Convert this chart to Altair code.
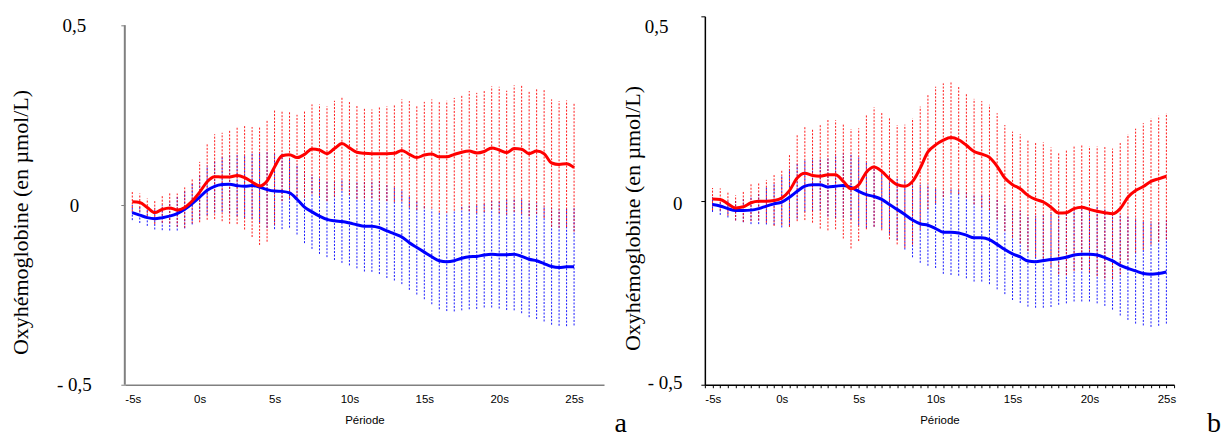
import altair as alt
import pandas as pd

# time stamps (s), one every 0.5 s
T = [-4.5, -4.0, -3.5, -3.0, -2.5, -2.0, -1.5, -1.0, -0.5, 0.0,
     0.5, 1.0, 1.5, 2.0, 2.5, 3.0, 3.5, 4.0, 4.5, 5.0,
     5.5, 6.0, 6.5, 7.0, 7.5, 8.0, 8.5, 9.0, 9.5, 10.0,
     10.5, 11.0, 11.5, 12.0, 12.5, 13.0, 13.5, 14.0, 14.5, 15.0,
     15.5, 16.0, 16.5, 17.0, 17.5, 18.0, 18.5, 19.0, 19.5, 20.0,
     20.5, 21.0, 21.5, 22.0, 22.5, 23.0, 23.5, 24.0, 24.5, 25.0]

# panel a
A_RED_MEAN = [0.009, 0.007, -0.007, -0.021, -0.012, -0.008, -0.014, -0.007, 0.011, 0.036,
              0.065, 0.079, 0.078, 0.078, 0.082, 0.076, 0.064, 0.053, 0.067, 0.106,
              0.137, 0.140, 0.132, 0.141, 0.156, 0.153, 0.143, 0.157, 0.171, 0.159,
              0.147, 0.144, 0.143, 0.143, 0.143, 0.144, 0.152, 0.141, 0.132, 0.139,
              0.142, 0.134, 0.134, 0.141, 0.147, 0.150, 0.145, 0.149, 0.159, 0.153,
              0.146, 0.157, 0.155, 0.143, 0.150, 0.143, 0.117, 0.113, 0.115, 0.104]
A_RED_ERR = [0.027, 0.025, 0.025, 0.032, 0.037, 0.043, 0.046, 0.056, 0.062, 0.084,
             0.106, 0.118, 0.123, 0.130, 0.135, 0.144, 0.153, 0.164, 0.169, 0.160,
             0.126, 0.121, 0.119, 0.120, 0.124, 0.127, 0.132, 0.133, 0.131, 0.131,
             0.130, 0.125, 0.123, 0.130, 0.132, 0.135, 0.142, 0.148, 0.145, 0.148,
             0.152, 0.155, 0.156, 0.157, 0.160, 0.167, 0.167, 0.168, 0.171, 0.176,
             0.172, 0.176, 0.179, 0.174, 0.174, 0.179, 0.177, 0.176, 0.176, 0.178]
A_BLUE_MEAN = [-0.021, -0.028, -0.035, -0.038, -0.035, -0.031, -0.024, -0.012, 0.004, 0.022,
               0.041, 0.052, 0.057, 0.058, 0.054, 0.052, 0.054, 0.050, 0.043, 0.039,
               0.038, 0.034, 0.016, -0.006, -0.019, -0.031, -0.040, -0.044, -0.046, -0.050,
               -0.055, -0.059, -0.059, -0.063, -0.072, -0.080, -0.089, -0.105, -0.118, -0.131,
               -0.144, -0.155, -0.158, -0.155, -0.148, -0.144, -0.143, -0.139, -0.137, -0.138,
               -0.138, -0.137, -0.143, -0.151, -0.155, -0.163, -0.171, -0.174, -0.172, -0.172]
A_BLUE_ERR = [0.021, 0.022, 0.023, 0.030, 0.035, 0.040, 0.047, 0.053, 0.058, 0.062,
              0.069, 0.073, 0.076, 0.081, 0.085, 0.087, 0.092, 0.098, 0.106, 0.106,
              0.105, 0.097, 0.098, 0.100, 0.103, 0.105, 0.105, 0.109, 0.115, 0.118,
              0.121, 0.126, 0.127, 0.129, 0.131, 0.130, 0.131, 0.131, 0.131, 0.131,
              0.132, 0.135, 0.137, 0.141, 0.145, 0.146, 0.146, 0.146, 0.148, 0.150,
              0.154, 0.156, 0.158, 0.161, 0.162, 0.161, 0.162, 0.162, 0.165, 0.163]

# panel b
B_RED_MEAN = [0.004, 0.003, -0.009, -0.020, -0.017, -0.006, -0.002, -0.002, 0.000, 0.007,
              0.027, 0.061, 0.074, 0.068, 0.066, 0.070, 0.070, 0.052, 0.032, 0.043,
              0.077, 0.091, 0.079, 0.059, 0.043, 0.039, 0.052, 0.088, 0.132, 0.151,
              0.164, 0.171, 0.165, 0.150, 0.133, 0.126, 0.117, 0.093, 0.061, 0.043,
              0.032, 0.014, 0.003, -0.004, -0.018, -0.034, -0.033, -0.022, -0.018, -0.024,
              -0.029, -0.033, -0.036, -0.022, 0.009, 0.027, 0.038, 0.052, 0.059, 0.066]
B_RED_ERR = [0.030, 0.030, 0.032, 0.034, 0.041, 0.050, 0.052, 0.058, 0.069, 0.074,
             0.099, 0.117, 0.127, 0.128, 0.142, 0.151, 0.148, 0.155, 0.162, 0.153,
             0.155, 0.162, 0.160, 0.164, 0.162, 0.167, 0.171, 0.167, 0.155, 0.158,
             0.154, 0.150, 0.147, 0.142, 0.143, 0.144, 0.143, 0.144, 0.144, 0.144,
             0.148, 0.151, 0.156, 0.162, 0.162, 0.166, 0.169, 0.169, 0.170, 0.171,
             0.176, 0.178, 0.177, 0.178, 0.171, 0.168, 0.172, 0.171, 0.171, 0.171]
B_BLUE_MEAN = [-0.011, -0.015, -0.022, -0.027, -0.027, -0.026, -0.022, -0.015, -0.009, -0.004,
               0.009, 0.025, 0.039, 0.043, 0.043, 0.037, 0.039, 0.041, 0.036, 0.025,
               0.016, 0.011, 0.003, -0.011, -0.024, -0.038, -0.053, -0.063, -0.067, -0.076,
               -0.086, -0.086, -0.088, -0.094, -0.101, -0.101, -0.106, -0.119, -0.133, -0.145,
               -0.153, -0.164, -0.166, -0.163, -0.160, -0.158, -0.154, -0.148, -0.146, -0.146,
               -0.148, -0.155, -0.164, -0.176, -0.184, -0.191, -0.198, -0.200, -0.198, -0.194]
B_BLUE_ERR = [0.020, 0.024, 0.024, 0.027, 0.032, 0.038, 0.042, 0.050, 0.057, 0.069,
              0.077, 0.074, 0.069, 0.072, 0.070, 0.080, 0.086, 0.087, 0.088, 0.092,
              0.090, 0.082, 0.079, 0.079, 0.083, 0.095, 0.101, 0.106, 0.110, 0.107,
              0.113, 0.116, 0.116, 0.117, 0.119, 0.119, 0.121, 0.122, 0.121, 0.125,
              0.125, 0.124, 0.125, 0.128, 0.129, 0.125, 0.125, 0.126, 0.128, 0.128,
              0.131, 0.131, 0.132, 0.136, 0.140, 0.143, 0.141, 0.143, 0.142, 0.140]

X_LABEL_VALUES = [-5, 0, 5, 10, 15, 20, 25]
Y_LABEL_VALUES = [-0.5, 0, 0.5]
Y_TITLE = "Oxyhémoglobine (en µmol/L)"
X_TITLE = "Période"

RED = "#FF0000"
BLUE = "#0000FF"
SERIF = "Liberation Serif"
SANS = "Liberation Sans"
Y_LABEL_EXPR = "datum.value == 0.5 ? '0,5' : (datum.value == 0 ? '0' : '- 0,5')"


def make_panel(rm, re, bm, be, xdomain, ydomain, width, height, xaxis, yaxis,
               letter, letter_dx, axis_color, draw_yline):
    df = pd.DataFrame({"t": T, "rm": rm, "re": re, "bm": bm, "be": be})
    base = alt.Chart(df).transform_calculate(
        rlo="datum.rm - datum.re", rhi="datum.rm + datum.re",
        blo="datum.bm - datum.be", bhi="datum.bm + datum.be")
    xs = alt.Scale(domain=xdomain, nice=False, zero=False)
    ys = alt.Scale(domain=ydomain, nice=False, zero=False)
    x = alt.X("t:Q", scale=xs, axis=xaxis, title=X_TITLE)

    def Y(field):
        return alt.Y(field + ":Q", scale=ys, axis=yaxis, title=Y_TITLE)

    blue_bars = base.mark_rule(color=BLUE, strokeWidth=1, strokeDash=[2, 1.5], opacity=0.9).encode(
        x=x, y=Y("blo"), y2="bhi:Q")
    red_bars = base.mark_rule(color=RED, strokeWidth=1, strokeDash=[2, 1.5], opacity=0.9).encode(
        x=x, y=Y("rlo"), y2="rhi:Q")
    blue_line = base.mark_line(color=BLUE, strokeWidth=3, interpolate="monotone").encode(
        x=x, y=Y("bm"))
    red_line = base.mark_line(color=RED, strokeWidth=3, interpolate="monotone").encode(
        x=x, y=Y("rm"))
    layers = [blue_bars, red_bars, blue_line, red_line]
    if draw_yline:
        yline = alt.Chart(pd.DataFrame({"k": [0]})).mark_rule(color=axis_color, strokeWidth=2).encode(
            x=alt.X(datum=xdomain[0], scale=xs, axis=xaxis, title=X_TITLE),
            y=alt.Y(datum=-0.5, scale=ys, axis=yaxis, title=Y_TITLE),
            y2=alt.Y2(datum=0.5))
        layers.insert(0, yline)
    return alt.layer(*layers).properties(
        width=width, height=height,
        title=alt.TitleParams(letter, orient="bottom", anchor="end", frame="group",
                              dx=letter_dx, offset=6, font=SERIF, fontSize=28,
                              fontWeight="normal", color="black", baseline="alphabetic"))


# ---- panel a ----
xaxis_a = alt.Axis(values=X_LABEL_VALUES, labelExpr="datum.value + 's'",
                   labelFont=SANS, labelFontSize=11.5, labelColor="black",
                   labelPadding=9, labelFlush=True, ticks=False, tickSize=0,
                   domainColor="#808080", domainWidth=1.5, grid=False,
                   titleFont=SANS, titleFontSize=11.5, titleFontWeight="normal",
                   titleColor="black", titleY=36, titleBaseline="middle")
yaxis_a = alt.Axis(values=Y_LABEL_VALUES, labelExpr=Y_LABEL_EXPR,
                   labelFont=SERIF, labelFontSize=19, labelColor="black",
                   labelAlign="center", labelBaseline="middle", labelPadding=47,
                   tickSize=4, tickColor="#808080", domain=False, grid=False,
                   titleFont=SERIF, titleFontSize=22, titleFontWeight="normal",
                   titleColor="black", titleX=-104, titleY=206,
                   titleAlign="center", titleBaseline="middle")
panel_a = make_panel(A_RED_MEAN, A_RED_ERR, A_BLUE_MEAN, A_BLUE_ERR,
                     [-5, 27], [-0.5, 0.525], 480, 369, xaxis_a, yaxis_a,
                     "a", 23, "#808080", True)

# ---- panel b ----
B_TICKS = [v / 2 for v in range(-10, 52)]
xaxis_b = alt.Axis(values=B_TICKS, labelExpr="datum.value % 5 == 0 ? datum.value + 's' : ''",
                   labelFont=SANS, labelFontSize=11.5, labelColor="black",
                   labelPadding=6, labelFlush=True, ticks=True, tickSize=3,
                   tickColor="black", domainColor="black", domainWidth=1.5, grid=False,
                   titleFont=SANS, titleFontSize=11.5, titleFontWeight="normal",
                   titleColor="black", titleY=36, titleBaseline="middle")
yaxis_b = alt.Axis(values=Y_LABEL_VALUES, labelExpr=Y_LABEL_EXPR,
                   labelFont=SERIF, labelFontSize=19, labelColor="black",
                   labelAlign="right", labelBaseline="middle",
                   labelPadding={"condition": {"test": "datum.value == 0.5", "value": 33}, "value": 19},
                   labelOffset={"condition": [{"test": "datum.value == 0.5", "value": 10},
                                              {"test": "datum.value == 0", "value": 3}],
                                "value": -2},
                   tickSize=4, tickColor="black", domainColor="black", domainWidth=1.5,
                   grid=False,
                   titleFont=SERIF, titleFontSize=22, titleFontWeight="normal",
                   titleColor="black", titleX=-72, titleY=202,
                   titleAlign="center", titleBaseline="middle")
panel_b = make_panel(B_RED_MEAN, B_RED_ERR, B_BLUE_MEAN, B_BLUE_ERR,
                     [-5, 25.5], [-0.5, 0.5], 470, 369, xaxis_b, yaxis_b,
                     "b", 47, "black", False)

chart = alt.hconcat(panel_a, panel_b, spacing=101, bounds="flush").properties(
    padding={"left": 1, "top": 7, "right": 0, "bottom": 0},
    background="white",
).configure_view(stroke=None)

chart.save("out.html", embed_options={"renderer": "svg", "actions": False})
